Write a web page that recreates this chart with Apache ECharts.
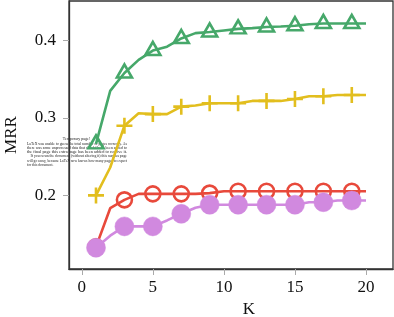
<!DOCTYPE html>
<html>
<head>
<meta charset="utf-8">
<script src="https://cdn.jsdelivr.net/npm/echarts@6/dist/echarts.min.js"></script>
<style>html,body{margin:0;padding:0;background:#fff}#c{width:394px;height:317px}</style>
</head>
<body>
<div id="c"></div>
<script>
var kValues = [1,2,3,4,5,6,7,8,9,10,11,12,13,14,15,16,17,18,19,20];
var greenSeries = [0.2665,0.335,0.358,0.375,0.387,0.392,0.4026,0.4095,0.411,0.413,0.415,0.416,0.4175,0.418,0.419,0.421,0.422,0.422,0.422,0.422];
var yellowSeries = [0.200,0.236,0.290,0.306,0.305,0.305,0.3146,0.316,0.319,0.319,0.319,0.322,0.322,0.322,0.3245,0.328,0.328,0.3296,0.3296,0.3296];
var redSeries = [0.1335,0.1835,0.1943,0.202,0.202,0.202,0.202,0.202,0.203,0.2054,0.2054,0.2054,0.2054,0.2054,0.2054,0.2054,0.2054,0.2054,0.2054,0.2054];
var purpleSeries = [0.1325,0.148,0.160,0.160,0.160,0.1677,0.1763,0.184,0.188,0.188,0.188,0.188,0.188,0.188,0.188,0.1912,0.1912,0.1934,0.1934,0.1934];
var xTicks = [0,5,10,15,20];
var yTicks = [0.2,0.3,0.4];
var noteLines = [
  "Temporary page!",
  "LaTeX was unable to guess the total number of pages correctly. As",
  "there was some unprocessed data that should have been added to",
  "the final page this extra page has been added to receive it.",
  "If you rerun the document (without altering it) this surplus page",
  "will go away, because LaTeX now knows how many pages to expect",
  "for this document."
];

var serif = "'Liberation Serif', 'DejaVu Serif', serif";
var chart = echarts.init(document.getElementById('c'), null, {renderer: 'canvas'});

function pairs(arr) { return arr.map(function (v, i) { return [kValues[i], v]; }); }
function oddMarker(sym) {
  return function (value, params) { return params.dataIndex % 2 === 0 ? sym : 'none'; };
}

// note text layout (justified block)
var ctx = document.createElement('canvas').getContext('2d');
var noteFont = 4;
ctx.font = '40px ' + serif;
var noteY = [139, 143.6, 147.9, 152.1, 156.3, 160.5, 164.7];
var graphics = [];
noteLines.forEach(function (t, i) {
  var w = ctx.measureText(t).width / 10;
  var left, target, sx;
  if (i === 0) {
    sx = 1; left = 76.5 - w / 2;
  } else if (i === 6) {
    sx = 0.9; left = 27;
  } else {
    left = (i === 4) ? 30.5 : 27;
    target = 127 - left;
    sx = target / w;
  }
  graphics.push({
    type: 'text', x: left, y: noteY[i], scaleX: sx, z: -1, silent: true,
    style: { text: t, font: noteFont + 'px ' + serif, fill: '#222', verticalAlign: 'middle', textAlign: 'left' }
  });
});

var lw = 2.6;
chart.setOption({
  animation: false,
  backgroundColor: '#fff',
  grid: { left: 69, right: 1, top: 1, bottom: 48, show: true, borderColor: '#333', borderWidth: 1.3, backgroundColor: 'transparent', containLabel: false, outerBoundsMode: 'none', z: 0 },
  graphic: { elements: graphics },
  xAxis: {
    type: 'value', min: -0.9, max: 21.9,
    name: 'K', nameLocation: 'middle', nameGap: 26,
    nameTextStyle: { fontFamily: serif, fontSize: 17, color: '#111', padding: [0, 0, 0, 36] },
    axisLine: { show: true, onZero: false, lineStyle: { color: '#333', width: 1.3 } },
    axisTick: { show: true, length: 6, lineStyle: { color: '#aaa', width: 1 }, customValues: xTicks },
    axisLabel: { fontFamily: serif, fontSize: 17, color: '#111', margin: 10, customValues: xTicks },
    splitLine: { show: false }
  },
  yAxis: {
    type: 'value', min: 0.105, max: 0.451,
    name: 'MRR', nameLocation: 'middle', nameGap: 49,
    nameTextStyle: { fontFamily: serif, fontSize: 17, color: '#111' },
    axisLine: { show: true, onZero: false, lineStyle: { color: '#333', width: 1.3 } },
    axisTick: { show: true, length: 6, lineStyle: { color: '#aaa', width: 1 }, customValues: yTicks },
    axisLabel: { fontFamily: serif, fontSize: 17, color: '#111', margin: 13, customValues: yTicks, formatter: function (v) { return v.toFixed(1); } },
    splitLine: { show: false }
  },
  series: [
    {
      type: 'line', data: pairs(greenSeries), showAllSymbol: true,
      symbol: oddMarker('triangle'), symbolSize: [15, 13], symbolOffset: [0, -2],
      lineStyle: { color: '#46a86a', width: lw },
      itemStyle: { color: 'transparent', borderColor: '#46a86a', borderWidth: 2.6 },
      z: 3
    },
    {
      type: 'line', data: pairs(yellowSeries), showAllSymbol: true,
      symbol: oddMarker('path://M5,0L5,10M0,5L10,5'), symbolSize: 16,
      lineStyle: { color: '#e2be1e', width: lw },
      itemStyle: { color: 'transparent', borderColor: '#e2be1e', borderWidth: 2.6 },
      z: 2
    },
    {
      type: 'line', data: pairs(redSeries), showAllSymbol: true,
      symbol: oddMarker('circle'), symbolSize: 15,
      lineStyle: { color: '#e8493b', width: lw },
      itemStyle: { color: 'transparent', borderColor: '#e8493b', borderWidth: 2.6 },
      z: 4
    },
    {
      type: 'line', data: pairs(purpleSeries), showAllSymbol: true,
      symbol: oddMarker('circle'), symbolSize: 19,
      lineStyle: { color: '#d189df', width: lw },
      itemStyle: { color: '#d189df', borderColor: '#d189df', borderWidth: 0.5 },
      z: 5
    }
  ]
});
</script>
</body>
</html>
